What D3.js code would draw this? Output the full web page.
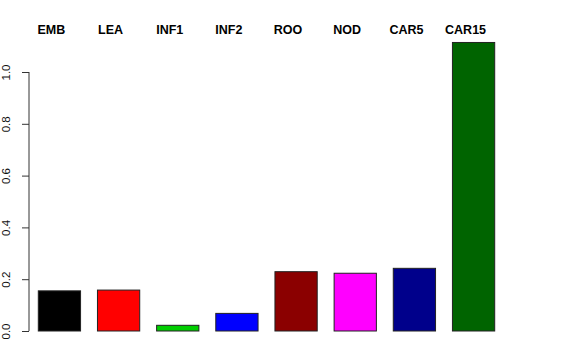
<!DOCTYPE html>
<html>
<head>
<meta charset="utf-8">
<script src="https://cdn.jsdelivr.net/npm/d3@7"></script>
<style>
  html, body { margin: 0; padding: 0; background: #fff; }
  svg { display: block; font-family: "Liberation Sans", Arial, Helvetica, sans-serif; }
</style>
</head>
<body>
<svg id="chart" width="576" height="360"></svg>
<script>
const categories = ["EMB", "LEA", "INF1", "INF2", "ROO", "NOD", "CAR5", "CAR15"];
const values = [0.155, 0.158, 0.022, 0.068, 0.229, 0.223, 0.242, 1.114];
const colors = ["#000000", "#FF0000", "#00CD00", "#0000FF", "#8B0000", "#FF00FF", "#00008B", "#006400"];
const yTicks = [0, 0.2, 0.4, 0.6, 0.8, 1.0];
const yTickLabels = ["0.0", "0.2", "0.4", "0.6", "0.8", "1.0"];

const svg = d3.select("#chart");
const space = 0.4;

const xLeft = d => space + d * (1 + space);
const x = d3.scaleLinear().domain([space, space + 7 * (1 + space) + 1]).range([38.3, 494.7]);
const y = d3.scaleLinear().domain([0, 1]).range([331, 72]);

svg.append("g").selectAll("rect")
  .data(values)
  .join("rect")
  .attr("x", (d, i) => x(xLeft(i)))
  .attr("width", (d, i) => x(xLeft(i) + 1) - x(xLeft(i)))
  .attr("y", d => y(d))
  .attr("height", d => y(0) - y(d))
  .attr("fill", (d, i) => colors[i])
  .attr("stroke", "#222")
  .attr("stroke-width", 1);

const yAxis = d3.axisLeft(y)
  .tickValues(yTicks)
  .tickFormat((d, i) => yTickLabels[i])
  .tickSize(7)
  .tickSizeOuter(0);
const ga = svg.append("g").attr("transform", "translate(29,0)").call(yAxis);
ga.select(".domain").attr("stroke", "#333").attr("d", `M0,${y(0)}V${y(1)}`);
ga.selectAll(".tick line").attr("stroke", "#333");
ga.selectAll(".tick text")
  .attr("font-size", 11.5)
  .attr("font-family", "Liberation Sans, Arial, sans-serif")
  .attr("fill", "#111")
  .attr("x", null).attr("dy", null)
  .attr("text-anchor", "middle")
  .attr("transform", "translate(-19,0) rotate(-90)");

svg.append("g").selectAll("text")
  .data(categories)
  .join("text")
  .attr("x", (d, i) => x(xLeft(i) + 0.5) - 8)
  .attr("y", 34)
  .attr("text-anchor", "middle")
  .attr("font-weight", "bold")
  .attr("font-size", 12.5)
  .attr("fill", "#000")
  .text(d => d);
</script>
</body>
</html>
